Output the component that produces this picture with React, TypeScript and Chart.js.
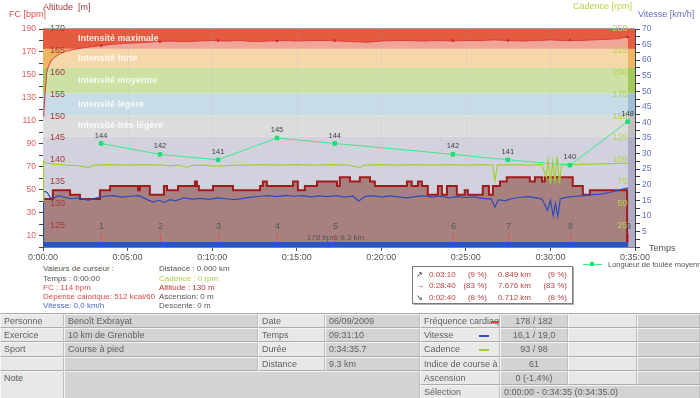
import React, { useEffect, useRef } from 'react';
import { Chart, registerables } from 'chart.js';

Chart.register(...registerables);

const FONT = "'Liberation Sans', Arial, sans-serif";
const GRAY = '#555555';

// ---- axes ----
const timeMax = 2100; // seconds (0:35:00)
const timeStep = 300;
const dataEnd = 2075; // 0:34:35
const fcMin = 0, fcMax = 190;
const altMin = 120, altMax = 170;
const cadMin = 0, cadMax = 250;
const speedMin = 0, speedMax = 70;
const strideMin = 125, strideMax = 165;
const altTicks = [125, 130, 135, 140, 145, 150, 155, 160, 165, 170];
const cadTicks = [25, 50, 75, 100, 125, 150, 175, 200, 225, 250];

// ---- heart-rate zones (bpm) ----
const zoneBounds = [0, 96, 115, 134, 156, 172.7, 190];
const zoneColors = ['#adadc3', '#bfbfbf', '#9bbfd5', '#a4c85b', '#edb664', '#e45b40'];
const zoneNames = ['', 'Intensité très légère', 'Intensité légère', 'Intensité moyenne', 'Intensité forte', 'Intensité maximale'];

// ---- heart rate (s, bpm) ----
const hrTimes = [0, 3, 8, 13, 20, 31, 45, 60, 80, 106, 140, 170, 202, 240, 284, 340, 404, 450, 500, 550, 600, 650, 700, 750, 800, 850, 900, 950, 1000, 1050, 1100, 1150, 1200, 1250, 1300, 1350, 1400, 1450, 1500, 1550, 1600, 1650, 1700, 1750, 1800, 1850, 1900, 1950, 2000, 2040, 2060, 2075];
const hrValues = [114, 118, 135, 152, 158, 163, 166, 168.5, 170.5, 172, 173.5, 174.5, 175.5, 176.5, 177.5, 178, 179, 179.5, 179, 179.5, 180, 179.5, 180, 179, 179.5, 180, 179.5, 180, 180, 179.5, 179, 178.5, 179.5, 180, 180, 179.5, 180, 179.5, 180, 180, 180.5, 180, 179.5, 180, 180.5, 180, 180, 180.5, 181, 181.5, 182.5, 183];

// ---- kilometre marks ----
const kmTimes = [206, 415, 621, 830, 1035, 1454, 1649, 1869, 2074];
const kmLabels = ['1', '2', '3', '4', '5', '6', '7', '8', '9'];
const kmHr = [175.5, 179, 180, 179.5, 180, 180, 180, 180.5, 183];
const strideValues = [144, 142, 141, 145, 144, 142, 141, 140, 148];

// ---- altitude (s, m) ----
const altTimes = [0, 35, 96, 131, 202, 238, 337, 344, 379, 429, 440, 479, 539, 546, 553, 603, 674, 770, 780, 794, 887, 904, 929, 972, 1043, 1053, 1089, 1124, 1160, 1177, 1291, 1308, 1330, 1344, 1365, 1401, 1415, 1433, 1468, 1496, 1507, 1560, 1582, 1596, 1621, 1645, 1727, 1745, 1770, 1780, 1879, 1915, 1940, 1975, 2072, 2075];
const altValues = [130, 131, 133, 132, 131, 133, 134, 133, 134, 132, 134, 133, 134, 135, 134, 133, 134, 133, 134, 135, 134, 135, 133, 134, 135, 134, 136, 135, 136, 135, 134, 135, 134, 135, 134, 132, 134, 132, 134, 132, 133, 132, 134, 132, 134, 135, 136, 135, 136, 135, 136, 134, 132, 133, 133, 120];

// ---- speed (s, km/h) ----
const speedTimes = [0, 2, 15, 25, 35, 55, 75, 100, 130, 160, 190, 220, 250, 280, 310, 340, 370, 390, 410, 430, 450, 470, 500, 530, 560, 590, 620, 650, 680, 710, 740, 770, 800, 830, 860, 890, 920, 950, 980, 1010, 1040, 1070, 1100, 1120, 1140, 1170, 1200, 1230, 1260, 1290, 1320, 1350, 1380, 1410, 1440, 1470, 1500, 1530, 1560, 1590, 1603, 1615, 1640, 1660, 1690, 1720, 1750, 1770, 1790, 1800, 1810, 1818, 1826, 1835, 1860, 1890, 1920, 1950, 1980, 2010, 2040, 2075];
const speedValues = [0, 18, 17.5, 16, 15.5, 16.5, 16, 15.5, 15.8, 15, 15.8, 16.3, 16.5, 16, 16.3, 16.5, 15.2, 14.4, 15, 14.3, 15.2, 14.8, 15.8, 15.4, 15.6, 15.3, 15.8, 15.5, 15.2, 15.6, 16, 16.3, 16.5, 16.2, 16.6, 16.3, 16.5, 16.1, 16.4, 16.2, 16.5, 16, 16.3, 14.7, 16.2, 16.5, 16, 16.4, 16.1, 15.8, 16.2, 16.4, 16, 16.3, 15.8, 16.2, 15.9, 16.1, 15.6, 15.4, 12.8, 15.2, 14.8, 15.5, 15.9, 16.2, 15.8, 15.4, 11.7, 15, 10, 14, 9.8, 15.5, 16, 16.3, 16.5, 16.8, 17, 17.5, 18.2, 19];

// ---- cadence (s, rpm) ----
const cadTimes = [0, 2, 15, 40, 80, 120, 160, 180, 240, 300, 360, 420, 450, 480, 510, 530, 570, 600, 630, 660, 720, 780, 840, 900, 960, 1020, 1080, 1124, 1140, 1200, 1260, 1320, 1380, 1440, 1500, 1560, 1595, 1603, 1612, 1660, 1720, 1770, 1785, 1792, 1800, 1808, 1816, 1824, 1832, 1840, 1880, 1950, 2010, 2060, 2075];
const cadValues = [53, 98, 96, 95, 94, 93.5, 91, 94, 94.5, 94, 94.5, 94, 93, 94, 91.5, 93.5, 94, 93, 92.8, 93.5, 94, 94.5, 94, 94.5, 94, 94.5, 94, 91, 94, 94.5, 94, 94.5, 94, 94.5, 94, 94.5, 94, 76, 94, 94.5, 94, 94.5, 80, 100, 72, 98, 75, 104, 73, 95, 94.5, 95, 95.5, 96, 96];

const pts = (ts: number[], vs: number[]) => ts.map((t, i) => ({ x: t, y: vs[i] }));
const fmtTime = (s: number) => {
  const m = Math.floor(s / 60);
  const ss = Math.round(s % 60);
  return `0:${String(m).padStart(2, '0')}:${String(ss).padStart(2, '0')}`;
};

const drawPlugin = {
  id: 'decor',
  beforeDatasetsDraw(chart: any) {
    const { ctx, chartArea: a, scales } = chart;
    const y = scales.yFC;
    const x = scales.x;
    ctx.save();
    for (let i = 0; i < zoneColors.length; i++) {
      const top = y.getPixelForValue(zoneBounds[i + 1]);
      const bot = y.getPixelForValue(zoneBounds[i]);
      ctx.fillStyle = zoneColors[i];
      ctx.fillRect(a.left, top, a.right - a.left, bot - top);
    }
    ctx.strokeStyle = 'rgba(150,150,150,0.6)';
    ctx.setLineDash([2, 2]);
    ctx.lineWidth = 1;
    for (let t = timeStep; t < timeMax; t += timeStep) {
      const px = Math.round(x.getPixelForValue(t)) + 0.5;
      ctx.beginPath();
      ctx.moveTo(px, a.top);
      ctx.lineTo(px, a.bottom);
      ctx.stroke();
    }
    ctx.restore();
  },
  afterDatasetsDraw(chart: any) {
    const { ctx, chartArea: a, scales } = chart;
    const x = scales.x, yFC = scales.yFC, yAlt = scales.yAlt, yCad = scales.yCad, yStr = scales.yStride;
    ctx.save();
    // zone names
    ctx.font = `bold 9px ${FONT}`;
    ctx.fillStyle = 'rgba(255,255,255,0.85)';
    ctx.textBaseline = 'middle';
    ctx.textAlign = 'left';
    for (let i = 1; i < zoneNames.length; i++) {
      const c = (yFC.getPixelForValue(zoneBounds[i]) + yFC.getPixelForValue(zoneBounds[i + 1])) / 2;
      ctx.fillText(zoneNames[i], a.left + 35, c);
    }
    // altitude labels
    ctx.font = `9px ${FONT}`;
    ctx.fillStyle = '#a53a3a';
    altTicks.forEach((v) => ctx.fillText(String(v), a.left + 7, yAlt.getPixelForValue(v)));
    // cadence labels
    ctx.textAlign = 'right';
    ctx.fillStyle = '#b6d34c';
    cadTicks.forEach((v) => ctx.fillText(String(v), a.right - 7.5, yCad.getPixelForValue(v)));
    // blue bar
    const x0 = x.getPixelForValue(0), x1 = x.getPixelForValue(dataEnd);
    ctx.fillStyle = '#2456c8';
    ctx.fillRect(x0, a.bottom - 5, x1 - x0, 5);
    // km markers
    ctx.strokeStyle = '#e05050';
    ctx.lineWidth = 1;
    ctx.textAlign = 'center';
    ctx.fillStyle = GRAY;
    ctx.font = `9px ${FONT}`;
    kmTimes.forEach((t, i) => {
      const px = Math.round(x.getPixelForValue(t)) + 0.5;
      ctx.beginPath();
      ctx.moveTo(px, a.bottom - 13);
      ctx.lineTo(px, a.bottom - 5);
      ctx.stroke();
      ctx.fillText(kmLabels[i], px, a.bottom - 20);
    });
    // summary text
    ctx.font = `8px ${FONT}`;
    ctx.fillText('178 bpm 9.3 km', (x0 + x1) / 2, a.bottom - 9.5);
    // stride labels
    ctx.font = `7.5px ${FONT}`;
    ctx.fillStyle = '#404040';
    kmTimes.forEach((t, i) => {
      ctx.fillText(String(strideValues[i]), x.getPixelForValue(t), yStr.getPixelForValue(strideValues[i]) - 8);
    });
    // top frame
    ctx.strokeStyle = '#a0a0a0';
    ctx.beginPath();
    ctx.moveTo(a.left, a.top - 0.5);
    ctx.lineTo(a.right, a.top - 0.5);
    ctx.stroke();
    ctx.restore();
  },
  afterDraw(chart: any) {
    const { ctx, chartArea: a } = chart;
    ctx.save();
    ctx.textBaseline = 'middle';
    ctx.font = `9px ${FONT}`;
    ctx.fillStyle = '#e05050';
    ctx.textAlign = 'left';
    ctx.fillText('FC [bpm]', 9, 15);
    ctx.fillStyle = '#a53a3a';
    ctx.fillText('Altitude  [m]', a.left, 7.5);
    ctx.fillStyle = '#b6d34c';
    ctx.textAlign = 'right';
    ctx.fillText('Cadence [rpm]', 632, 7);
    ctx.fillStyle = '#6070c0';
    ctx.textAlign = 'left';
    ctx.fillText('Vitesse [km/h]', 638, 15);
    ctx.fillStyle = GRAY;
    ctx.fillText('Temps', 649, 248.5);
    ctx.restore();
  },
};

function makeConfig(): any {
  return {
    type: 'line',
    data: {
      datasets: [
        {
          data: pts(hrTimes, hrValues), yAxisID: 'yFC', borderColor: '#e03c3c', borderWidth: 1,
          pointRadius: 0, fill: 'start', backgroundColor: 'rgba(255,255,255,0.45)', order: 6,
        },
        {
          data: pts(kmTimes, kmHr), yAxisID: 'yFC', showLine: false, pointStyle: 'rect', pointRadius: 1.6,
          pointBackgroundColor: '#c82828', pointBorderWidth: 0, order: 5,
        },
        {
          data: pts(altTimes, altValues), yAxisID: 'yAlt', stepped: 'after', borderColor: '#a01c1c', borderWidth: 2,
          pointRadius: 0, fill: 'start', backgroundColor: 'rgb(168,128,128)', order: 4,
        },
        {
          data: pts(speedTimes, speedValues), yAxisID: 'ySpeed', borderColor: '#2a4cb8', borderWidth: 1.2,
          pointRadius: 0, order: 3,
        },
        {
          data: pts(cadTimes, cadValues), yAxisID: 'yCad', borderColor: '#a2d030', borderWidth: 1.2,
          pointRadius: 0, order: 2,
        },
        {
          data: pts(kmTimes, strideValues), yAxisID: 'yStride', borderColor: '#3ce88c', borderWidth: 1,
          pointStyle: 'rect', pointRadius: 2.5, pointBackgroundColor: '#18e070', pointBorderColor: '#18e070', order: 1,
        },
      ],
    },
    options: {
      responsive: false,
      animation: false,
      devicePixelRatio: 1,
      layout: { padding: { top: 29, left: 0, right: 0, bottom: 0 } },
      plugins: { legend: { display: false }, tooltip: { enabled: false } },
      scales: {
        x: {
          type: 'linear', min: 0, max: timeMax,
          afterFit: (s: any) => { s.height = 15; },
          ticks: { stepSize: timeStep, autoSkip: false, callback: (v: number) => fmtTime(v), color: GRAY, font: { family: FONT, size: 9 }, padding: 1, maxRotation: 0 },
          grid: { drawOnChartArea: false, tickLength: 4, color: '#505050' },
          border: { color: '#808080' },
        },
        yFC: {
          position: 'left', min: fcMin, max: fcMax,
          afterFit: (s: any) => { s.width = 43; },
          ticks: { stepSize: 10, autoSkip: false, callback: (v: number) => (v % 20 === 10 ? String(v) : ''), color: '#e06060', font: { family: FONT, size: 8.5 }, padding: 3 },
          grid: { drawOnChartArea: false, tickLength: 4, color: '#404040' },
          border: { color: '#404040' },
        },
        ySpeed: {
          position: 'right', min: speedMin, max: speedMax,
          afterFit: (s: any) => { s.width = 65; },
          ticks: { stepSize: 2.5, autoSkip: false, callback: (v: number) => (v % 5 === 0 && v > 0 ? String(v) : ''), color: '#6070c0', font: { family: FONT, size: 8.5 }, padding: 2 },
          grid: { drawOnChartArea: false, tickLength: 5, color: '#404040' },
          border: { color: '#404040' },
        },
        yAlt: { display: false, min: altMin, max: altMax },
        yCad: { display: false, min: cadMin, max: cadMax },
        yStride: { display: false, min: strideMin, max: strideMax },
      },
    },
    plugins: [drawPlugin],
  };
}

// ---- texts below the chart ----
const cursorLines = [
  { x: 43, y: 269, text: 'Valeurs de curseur :', color: GRAY },
  { x: 43, y: 278.3, text: 'Temps : 0:00:00', color: GRAY },
  { x: 43, y: 287.5, text: 'FC : 114 bpm', color: '#e04848' },
  { x: 43, y: 296.8, text: 'Dépense calorique: 512 kcal/60', color: '#e04848' },
  { x: 43, y: 306.2, text: 'Vitesse: 0,0 km/h', color: '#4a68c0' },
  { x: 159, y: 269, text: 'Distance : 0.000 km', color: GRAY },
  { x: 159, y: 278.3, text: 'Cadence : 0 rpm', color: '#a8d048' },
  { x: 159, y: 287.5, text: 'Altitude : 130 m', color: '#b03838' },
  { x: 159, y: 296.8, text: 'Ascension: 0 m', color: GRAY },
  { x: 159, y: 306.2, text: 'Descente: 0 m', color: GRAY },
];
const slopeArrows = ['↗', '→', '↘'];
const slopeTimes = ['0:03:10', '0:28:40', '0:02:40'];
const slopeTimePct = ['(9 %)', '(83 %)', '(8 %)'];
const slopeDist = ['0.849 km', '7.676 km', '0.712 km'];
const slopeDistPct = ['(9 %)', '(83 %)', '(8 %)'];

const colX = [0, 64, 258, 325, 420, 500, 568, 637, 700];
const rowY = [314, 328.2, 342.4, 356.6, 370.8, 385, 399.2];
type Cell = { r: number; c: number; rs?: number; cs?: number; text?: string; dark?: boolean; center?: boolean; dash?: string };
const cells: Cell[] = [
  { r: 0, c: 0, text: 'Personne' }, { r: 0, c: 1, text: 'Benoît Exbrayat', dark: true }, { r: 0, c: 2, text: 'Date' }, { r: 0, c: 3, text: '06/09/2009', dark: true },
  { r: 0, c: 4, text: 'Fréquence cardiaque', dash: '#e04040' }, { r: 0, c: 5, text: '178 / 182', dark: true, center: true }, { r: 0, c: 6 }, { r: 0, c: 7, dark: true },
  { r: 1, c: 0, text: 'Exercice' }, { r: 1, c: 1, text: '10 km de Grenoble', dark: true }, { r: 1, c: 2, text: 'Temps' }, { r: 1, c: 3, text: '09:31:10', dark: true },
  { r: 1, c: 4, text: 'Vitesse', dash: '#3050c0' }, { r: 1, c: 5, text: '16,1 / 19,0', dark: true, center: true }, { r: 1, c: 6 }, { r: 1, c: 7, dark: true },
  { r: 2, c: 0, text: 'Sport' }, { r: 2, c: 1, text: 'Course à pied', dark: true }, { r: 2, c: 2, text: 'Durée' }, { r: 2, c: 3, text: '0:34:35.7', dark: true },
  { r: 2, c: 4, text: 'Cadence', dash: '#a0d040' }, { r: 2, c: 5, text: '93 / 98', dark: true, center: true }, { r: 2, c: 6 }, { r: 2, c: 7, dark: true },
  { r: 3, c: 0 }, { r: 3, c: 1, dark: true }, { r: 3, c: 2, text: 'Distance' }, { r: 3, c: 3, text: '9.3 km', dark: true },
  { r: 3, c: 4, text: 'Indice de course à pied' }, { r: 3, c: 5, text: '61', dark: true, center: true }, { r: 3, c: 6 }, { r: 3, c: 7, dark: true },
  { r: 4, c: 0, rs: 2, text: 'Note' }, { r: 4, c: 1, rs: 2, cs: 3, dark: true },
  { r: 4, c: 4, text: 'Ascension' }, { r: 4, c: 5, text: '0 (-1.4%)', dark: true, center: true }, { r: 4, c: 6 }, { r: 4, c: 7, dark: true },
  { r: 5, c: 4, text: 'Sélection' }, { r: 5, c: 5, cs: 3, text: '0:00:00 - 0:34:35 (0:34:35.0)', dark: true },
];

function Txt(p: { x: number; y: number; color: string; size: number; text: string; right?: boolean }) {
  const st: any = {
    position: 'absolute', top: p.y - p.size * 0.6, fontSize: p.size, lineHeight: `${p.size * 1.2}px`,
    color: p.color, whiteSpace: 'nowrap', fontFamily: FONT,
  };
  if (p.right) st.right = 700 - p.x; else st.left = p.x;
  return <div style={st}>{p.text}</div>;
}

export default function App() {
  const ref = useRef<HTMLCanvasElement>(null);
  useEffect(() => {
    const chart = new Chart(ref.current as HTMLCanvasElement, makeConfig());
    return () => chart.destroy();
  }, []);
  return (
    <div style={{ position: 'absolute', left: 0, top: 0, width: 700, height: 398, background: '#fff', overflow: 'hidden', fontFamily: FONT }}>
      <canvas ref={ref} width={700} height={262} style={{ position: 'absolute', left: 0, top: 0, width: 700, height: 262 }} />
      {cursorLines.map((l, i) => <Txt key={i} x={l.x} y={l.y} color={l.color} size={8} text={l.text} />)}
      <div style={{ position: 'absolute', left: 412, top: 266, width: 161, height: 38, boxSizing: 'border-box', border: '1px solid #7a7a7a', boxShadow: '1px 1px 0 #b0b0b0', background: '#fff' }} />
      {slopeArrows.map((a, i) => {
        const y = 275 + i * 11.2;
        return (
          <React.Fragment key={i}>
            <Txt x={416} y={y} color="#303030" size={8} text={a} />
            <Txt x={429} y={y} color="#c04040" size={8} text={slopeTimes[i]} />
            <Txt x={487} y={y} color="#c04040" size={8} text={slopeTimePct[i]} right />
            <Txt x={531} y={y} color="#c04040" size={8} text={slopeDist[i]} right />
            <Txt x={567} y={y} color="#c04040" size={8} text={slopeDistPct[i]} right />
          </React.Fragment>
        );
      })}
      <div style={{ position: 'absolute', left: 583, top: 263.5, width: 19, height: 1, background: '#3ce88c' }} />
      <div style={{ position: 'absolute', left: 590, top: 262, width: 4, height: 4, background: '#18e070' }} />
      <Txt x={608} y={264.5} color={GRAY} size={7.5} text="Longueur de foulée moyenne" />
      <div style={{ position: 'absolute', left: 0, top: 312.5, width: 700, height: 2, background: '#a8a8a8' }} />
      {cells.map((c, i) => {
        const cs = c.cs || 1, rs = c.rs || 1;
        const left = colX[c.c], right = colX[c.c + cs];
        const top = rowY[c.r], bottom = rowY[c.r + rs];
        return (
          <div key={i} style={{
            position: 'absolute', left, top, width: right - left, height: bottom - top, boxSizing: 'border-box',
            background: c.dark ? '#d3d3d3' : '#e8e8e8', borderBottom: '1px solid #ababab', borderRight: '1px solid #bdbdbd',
            borderTop: '1px solid #f4f4f4', borderLeft: '1px solid #f6f6f6', overflow: 'hidden',
            fontSize: 9, lineHeight: '12px', color: '#606060', whiteSpace: 'nowrap',
            paddingLeft: c.center ? 0 : 3, textAlign: c.center ? 'center' : 'left',
          }}>
            {c.text || ''}
            {c.dash ? <div style={{ position: 'absolute', left: c.c === 4 && c.r === 0 ? 70 : 58, top: 6, width: 10, height: 1.5, background: c.dash }} /> : null}
          </div>
        );
      })}
    </div>
  );
}
